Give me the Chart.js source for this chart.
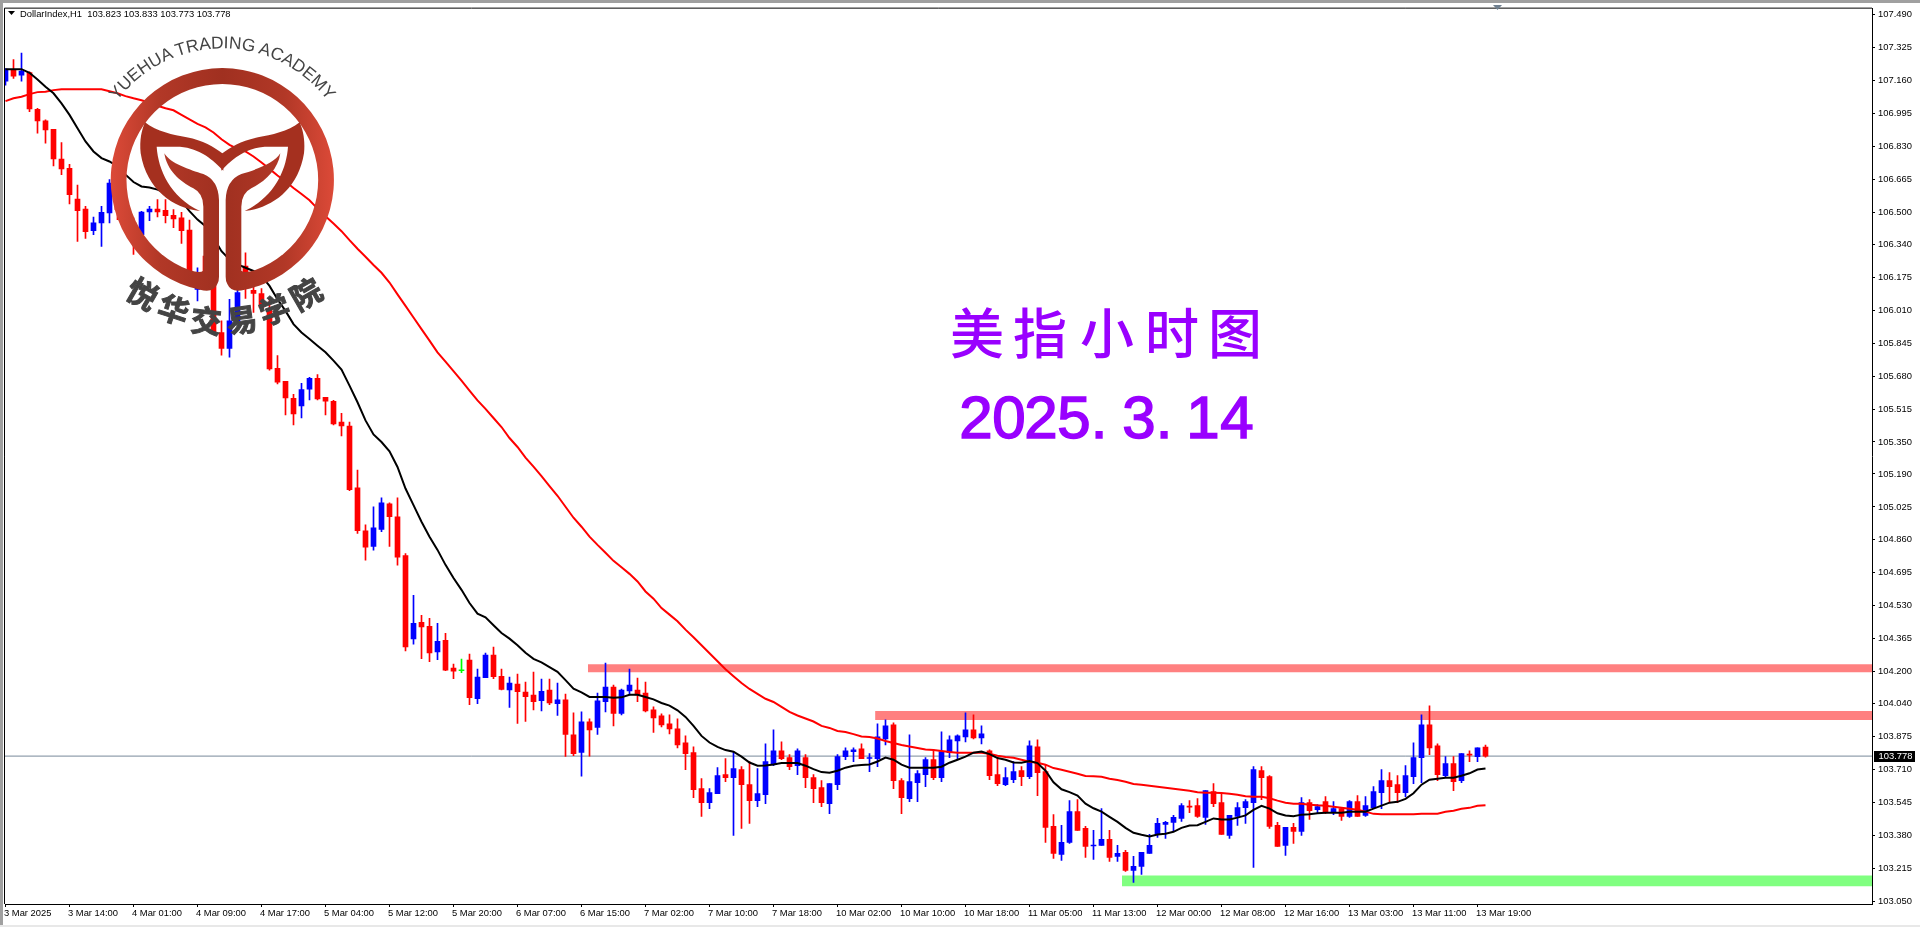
<!DOCTYPE html>
<html lang="zh">
<head>
<meta charset="utf-8">
<title>DollarIndex H1</title>
<script src="https://cdn.jsdelivr.net/npm/chart.js@4/dist/chart.umd.js"></script>
<style>
  html, body { margin: 0; padding: 0; background: #fff; overflow: hidden; }
  #wrap { position: relative; width: 1920px; height: 927px; background: #fff; }
  #chart { position: absolute; left: 0; top: 0; }
  #overlay { position: absolute; left: 0; top: 0; pointer-events: none; }
  #header { position: absolute; left: 20px; top: 7.5px; font: 9.4px "Liberation Sans", sans-serif; color: #000; white-space: pre; }
  .edge { position: absolute; background: #a0a0a0; }
</style>
</head>
<body>
<div id="wrap">
  <canvas id="chart" width="1920" height="927"></canvas>
  <div class="edge" style="left:0;top:0;width:1920px;height:3px"></div>
  <div class="edge" style="left:0;top:0;width:3px;height:925px"></div>
  <div class="edge" style="left:0;top:925px;width:1920px;height:2px;background:#e8e8e8"></div>
  <div id="header">DollarIndex,H1  103.823 103.833 103.773 103.778</div>
  <svg id="overlay" width="1920" height="927" viewBox="0 0 1920 927">
    <defs>
      <linearGradient id="ringFill" gradientUnits="userSpaceOnUse" x1="331" y1="0" x2="1003" y2="0">
        <stop offset="0" stop-color="#dc4a38"/>
        <stop offset="0.22" stop-color="#b23827"/>
        <stop offset="0.5" stop-color="#a03020"/>
        <stop offset="0.78" stop-color="#b23827"/>
        <stop offset="1" stop-color="#e04b39"/>
      </linearGradient>
      <path id="ringHalf" d="M670 204 L667 204 A336 336 0 0 0 600 869 Q640 880 652 852 Q657 845 657 830 L657 600 Q655 540 610 522 C570 510 510 490 493 460 C500 510 540 545 580 565 Q610 580 610 620 L610 812 Q600 820 570 811 A288 288 0 0 1 667 252 L670 252 Z"/>
      <path id="crownHalf" d="M435 367 C470 395 520 405 560 412 C610 422 640 440 670 462 L670 512 C640 480 600 445 540 440 L470 440 C475 510 510 590 600 633 C520 625 440 570 422 460 C418 420 425 390 435 367 Z"/>
      <path id="arcTop" d="M272 540 A395 395 0 0 1 1062 540"/>
    </defs>

    <!-- symbol menu arrow and shift marker -->
    <polygon points="8,11 15,11 11.5,15" fill="#000"/>
    <polygon points="1493,5 1502,5 1497.5,10" fill="#708090"/>

    <!-- watermark logo, drawn in 3x units -->
    <g transform="scale(0.33333)">
      <use href="#ringHalf" fill="url(#ringFill)"/>
      <use href="#ringHalf" fill="url(#ringFill)" transform="translate(1334,0) scale(-1,1)"/>
      <use href="#crownHalf" fill="#a5301f"/>
      <use href="#crownHalf" fill="#a5301f" transform="translate(1334,0) scale(-1,1)"/>
      <text font-family="Liberation Sans" font-size="52" fill="#444" text-anchor="middle">
        <textPath href="#arcTop" startOffset="50%">YUEHUA TRADING ACADEMY</textPath>
      </text>
      <g font-family="Noto Sans CJK SC" font-weight="700" font-size="92" fill="#444" stroke="#444" stroke-width="3" text-anchor="middle">
        <text transform="translate(410,912) rotate(30)">悦</text>
        <text transform="translate(510,962) rotate(18)">华</text>
        <text transform="translate(615,997) rotate(6)">交</text>
        <text transform="translate(730,994) rotate(-8)">易</text>
        <text transform="translate(835,962) rotate(-20)">学</text>
        <text transform="translate(935,912) rotate(-30)">院</text>
      </g>
    </g>

    <!-- big caption -->
    <text font-family="Noto Sans CJK SC" font-weight="500" font-size="54" fill="#9900ff" text-anchor="middle"
          x="977 1040 1107 1172 1235" y="354">美指小时图</text>
    <text font-family="Liberation Sans" font-size="60" fill="#9900ff" stroke="#9900ff" stroke-width="1.5" text-anchor="middle"
          x="976 1009 1041 1074 1099 1139 1164 1203 1237" y="438">2025.3.14</text>
  </svg>
</div>

<script>
// Chart values. One entry per hourly bar.
const opens = [
  107.156,107.211,107.186,107.199,107.015,106.957,106.915,106.766,106.719,106.566,
  106.516,106.407,106.447,106.496,106.633,106.513,106.447,106.388,106.501,106.516,
  106.510,106.485,106.472,106.410,106.114,106.280,106.197,105.898,105.818,105.956,
  106.231,106.109,106.093,106.015,105.719,105.654,105.569,105.531,105.614,105.669,
  105.574,105.554,105.450,105.430,105.121,104.906,104.828,104.913,105.041,104.976,
  104.782,104.365,104.448,104.428,104.300,104.358,104.218,104.205,104.258,104.065,
  104.170,104.283,104.177,104.109,104.138,104.099,104.084,104.055,104.109,104.040,
  104.059,103.884,103.796,103.949,103.921,104.050,104.124,103.991,104.104,104.109,
  104.094,104.009,103.979,103.939,103.914,103.844,103.795,103.615,103.545,103.590,
  103.685,103.670,103.710,103.635,103.555,103.585,103.735,103.804,103.770,103.730,
  103.770,103.670,103.620,103.540,103.635,103.775,103.800,103.814,103.766,103.765,
  103.864,103.934,103.655,103.565,103.645,103.685,103.760,103.670,103.795,103.854,
  103.874,103.909,103.869,103.804,103.685,103.635,103.660,103.705,103.675,103.824,
  103.700,103.426,103.286,103.346,103.500,103.416,103.328,103.331,103.361,103.276,
  103.296,103.206,103.226,103.291,103.386,103.436,103.446,103.466,103.527,103.530,
  103.471,103.600,103.545,103.381,103.476,103.520,103.545,103.705,103.675,103.431,
  103.331,103.421,103.401,103.545,103.510,103.550,103.495,103.515,103.476,103.550,
  103.481,103.520,103.595,103.655,103.635,103.595,103.675,103.770,103.934,103.829,
  103.680,103.740,103.655,103.787,103.775,103.823
];
const highs = [
  107.219,107.264,107.297,107.203,107.020,106.962,106.915,106.849,106.739,106.636,
  106.530,106.475,106.530,106.663,106.663,106.546,106.472,106.505,106.530,106.563,
  106.563,106.513,106.500,106.460,106.222,106.314,106.231,105.956,106.064,106.114,
  106.297,106.197,106.118,106.064,105.782,105.654,105.589,105.644,105.674,105.687,
  105.574,105.559,105.494,105.450,105.210,104.936,105.026,105.071,105.046,105.071,
  104.792,104.582,104.483,104.468,104.443,104.393,104.238,104.263,104.288,104.213,
  104.293,104.323,104.213,104.173,104.188,104.148,104.198,104.163,104.163,104.144,
  104.089,103.994,103.999,103.964,104.094,104.243,104.134,104.114,104.213,104.168,
  104.148,104.024,103.989,103.984,103.964,103.879,103.824,103.665,103.615,103.720,
  103.765,103.800,103.725,103.750,103.715,103.839,103.909,103.849,103.785,103.814,
  103.785,103.685,103.655,103.640,103.785,103.819,103.819,103.839,103.790,103.939,
  103.959,103.944,103.665,103.884,103.705,103.770,103.809,103.899,103.879,103.884,
  103.994,103.984,103.929,103.809,103.765,103.720,103.750,103.725,103.854,103.859,
  103.735,103.485,103.431,103.555,103.560,103.426,103.406,103.515,103.406,103.331,
  103.306,103.276,103.296,103.386,103.466,103.451,103.481,103.540,103.555,103.565,
  103.605,103.640,103.590,103.481,103.545,103.560,103.725,103.725,103.680,103.446,
  103.421,103.441,103.570,103.560,103.535,103.575,103.550,103.520,103.555,103.580,
  103.575,103.625,103.710,103.695,103.680,103.730,103.844,103.984,104.029,103.839,
  103.775,103.775,103.790,103.804,103.819,103.833
];
const lows = [
  107.136,107.169,107.156,107.003,106.895,106.845,106.732,106.688,106.541,106.354,
  106.369,106.388,106.329,106.447,106.463,106.413,106.289,106.380,106.458,106.476,
  106.447,106.422,106.344,106.172,106.056,106.114,105.890,105.785,105.774,105.948,
  106.068,105.998,106.001,105.710,105.641,105.486,105.436,105.471,105.561,105.561,
  105.486,105.436,105.381,105.107,104.893,104.758,104.808,104.901,104.828,104.733,
  104.305,104.338,104.265,104.250,104.260,104.205,104.165,104.195,104.036,104.041,
  104.170,104.165,104.109,104.021,103.941,103.951,104.009,104.004,104.036,103.981,
  103.776,103.780,103.677,103.778,103.886,103.999,103.929,103.984,104.084,104.050,
  103.999,103.896,103.924,103.889,103.819,103.710,103.570,103.476,103.515,103.590,
  103.650,103.381,103.416,103.441,103.525,103.540,103.730,103.760,103.710,103.685,
  103.620,103.545,103.525,103.490,103.610,103.760,103.750,103.765,103.700,103.725,
  103.834,103.615,103.490,103.550,103.550,103.625,103.660,103.650,103.770,103.760,
  103.849,103.864,103.839,103.660,103.630,103.630,103.645,103.630,103.665,103.580,
  103.346,103.266,103.256,103.341,103.406,103.271,103.261,103.331,103.251,103.251,
  103.201,103.146,103.186,103.291,103.371,103.366,103.401,103.451,103.495,103.471,
  103.436,103.525,103.386,103.366,103.431,103.441,103.221,103.560,103.416,103.326,
  103.281,103.341,103.381,103.461,103.490,103.490,103.485,103.456,103.471,103.476,
  103.476,103.515,103.515,103.545,103.545,103.575,103.640,103.645,103.785,103.655,
  103.670,103.605,103.645,103.750,103.750,103.773
];
const closes = [
  107.216,107.181,107.206,107.017,106.957,106.912,106.767,106.717,106.588,106.508,
  106.403,106.447,106.500,106.646,106.513,106.447,106.380,106.501,106.516,106.501,
  106.483,106.467,106.408,106.189,106.186,106.131,105.898,105.818,105.956,106.098,
  106.189,106.093,106.023,105.716,105.649,105.571,105.491,105.612,105.669,105.566,
  105.554,105.440,105.431,105.111,104.906,104.823,104.921,105.046,104.976,104.773,
  104.325,104.443,104.424,104.295,104.353,104.208,104.203,104.205,104.070,104.173,
  104.283,104.175,104.112,104.144,104.100,104.075,104.050,104.102,104.044,104.059,
  103.886,103.790,103.949,103.909,104.054,104.124,103.991,104.109,104.134,104.084,
  104.004,103.969,103.934,103.914,103.834,103.790,103.610,103.545,103.595,103.680,
  103.670,103.715,103.635,103.555,103.590,103.750,103.804,103.765,103.725,103.804,
  103.670,103.615,103.545,103.640,103.775,103.804,103.809,103.765,103.770,103.874,
  103.929,103.655,103.570,103.650,103.690,103.760,103.670,103.800,103.859,103.879,
  103.909,103.869,103.889,103.680,103.640,103.670,103.700,103.675,103.829,103.695,
  103.421,103.291,103.346,103.500,103.406,103.326,103.330,103.361,103.271,103.291,
  103.206,103.226,103.296,103.331,103.441,103.446,103.471,103.530,103.523,103.476,
  103.605,103.540,103.386,103.481,103.520,103.550,103.710,103.670,103.426,103.326,
  103.421,103.401,103.545,103.505,103.525,103.495,103.515,103.476,103.550,103.476,
  103.530,103.600,103.655,103.625,103.595,103.680,103.770,103.934,103.819,103.685,
  103.740,103.650,103.790,103.783,103.819,103.778
];

// black moving average
const maFast = [
  107.216,107.216,107.216,107.198,107.164,107.128,107.095,107.045,106.987,106.920,
  106.854,106.804,106.771,106.754,106.729,106.688,106.651,106.629,106.624,106.613,
  106.596,106.580,106.555,106.505,106.463,106.430,106.372,106.305,106.264,106.239,
  106.222,106.206,106.181,106.131,106.064,106.006,105.940,105.898,105.865,105.832,
  105.799,105.757,105.712,105.632,105.549,105.458,105.388,105.350,105.303,105.225,
  105.117,105.034,104.951,104.876,104.810,104.735,104.669,104.610,104.544,104.491,
  104.473,104.433,104.394,104.366,104.333,104.295,104.265,104.247,104.223,104.200,
  104.158,104.115,104.097,104.074,104.074,104.074,104.070,104.072,104.085,104.085,
  104.074,104.062,104.044,104.031,104.007,103.974,103.929,103.879,103.846,103.824,
  103.808,103.800,103.775,103.746,103.730,103.731,103.736,103.743,103.743,103.743,
  103.730,103.713,103.698,103.695,103.705,103.720,103.730,103.733,103.736,103.751,
  103.771,103.760,103.735,103.720,103.720,103.720,103.720,103.725,103.745,103.760,
  103.775,103.795,103.801,103.788,103.768,103.760,103.746,103.745,103.753,103.743,
  103.705,103.647,103.612,103.598,103.580,103.540,103.517,103.500,103.474,103.449,
  103.419,103.394,103.384,103.376,103.386,103.389,103.399,103.419,103.431,103.432,
  103.449,103.466,103.461,103.461,103.470,103.481,103.509,103.529,103.515,103.492,
  103.481,103.477,103.485,103.487,103.492,103.494,103.494,103.495,103.499,103.500,
  103.500,103.515,103.530,103.545,103.549,103.564,103.592,103.635,103.660,103.665,
  103.670,103.670,103.680,103.692,103.711,103.716
];
// red moving average
const maSlow = [
  107.056,107.070,107.078,107.091,107.101,107.103,107.111,107.115,107.115,107.115,
  107.115,107.115,107.115,107.105,107.095,107.081,107.070,107.060,107.048,107.033,
  107.020,107.010,106.987,106.965,106.942,106.925,106.899,106.865,106.837,106.817,
  106.804,106.779,106.749,106.717,106.684,106.654,106.621,106.591,106.560,106.518,
  106.480,106.443,106.405,106.360,106.317,106.277,106.236,106.197,106.148,106.089,
  106.031,105.973,105.915,105.857,105.799,105.752,105.705,105.657,105.607,105.558,
  105.516,105.470,105.425,105.370,105.325,105.272,105.227,105.179,105.129,105.081,
  105.026,104.971,104.926,104.876,104.835,104.796,104.755,104.723,104.690,104.652,
  104.602,104.566,104.519,104.486,104.453,104.411,104.373,104.333,104.293,104.253,
  104.213,104.178,104.144,104.114,104.089,104.065,104.049,104.024,103.999,103.981,
  103.966,103.951,103.929,103.919,103.904,103.899,103.888,103.876,103.873,103.866,
  103.854,103.844,103.834,103.826,103.819,103.811,103.808,103.803,103.798,103.795,
  103.795,103.795,103.795,103.790,103.780,103.773,103.770,103.760,103.750,103.745,
  103.735,103.718,103.710,103.700,103.690,103.678,103.677,103.675,103.665,103.658,
  103.650,103.638,103.635,103.630,103.625,103.620,103.615,103.610,103.605,103.597,
  103.595,103.595,103.593,103.589,103.585,103.577,103.575,103.574,103.567,103.555,
  103.545,103.540,103.539,103.535,103.532,103.530,103.525,103.520,103.515,103.510,
  103.500,103.489,103.487,103.487,103.487,103.487,103.487,103.489,103.490,103.490,
  103.499,103.505,103.514,103.519,103.529,103.532
];

// support / resistance bands: first bar, upper price, lower price
const zoneStarts = [72.8, 108.7, 139.56];
const zoneTops = [104.238, 104.004, 103.181];
const zoneBottoms = [104.198, 103.959, 103.127];

const lastPrice = 103.778;

const priceTicks = [
  "107.490","107.325","107.160","106.995","106.830","106.665","106.500","106.340","106.175","106.010",
  "105.845","105.680","105.515","105.350","105.190","105.025","104.860","104.695","104.530","104.365",
  "104.200","104.040","103.875","103.710","103.545","103.380","103.215","103.050"
];
const timeTicks = [
  "3 Mar 2025","3 Mar 14:00","4 Mar 01:00","4 Mar 09:00","4 Mar 17:00","5 Mar 04:00","5 Mar 12:00","5 Mar 20:00",
  "6 Mar 07:00","6 Mar 15:00","7 Mar 02:00","7 Mar 10:00","7 Mar 18:00","10 Mar 02:00","10 Mar 10:00","10 Mar 18:00",
  "11 Mar 05:00","11 Mar 13:00","12 Mar 00:00","12 Mar 08:00","12 Mar 16:00","13 Mar 03:00","13 Mar 11:00","13 Mar 19:00"
];
const barsPerTimeTick = 8;

// x axis runs past the last bar, one bar is 8 px wide
const xMin = -0.0625;
const xMax = 233.3125;
const yMin = 103.0378;
const yMax = 107.5188;

const UP = "#0000ff";
const DOWN = "#ff0000";
const FLAT = "#00ff00";
const TICK_FONT = { family: "Liberation Sans", size: 9.4 };

function candleColor(i) {
  if (closes[i] > opens[i]) return UP;
  if (closes[i] < opens[i]) return DOWN;
  return FLAT;
}

function zoneDataset(i, color) {
  return {
    type: "line",
    data: [{ x: zoneStarts[i], y: zoneTops[i] }, { x: xMax, y: zoneTops[i] }],
    borderWidth: 0,
    pointRadius: 0,
    backgroundColor: color,
    fill: { value: zoneBottoms[i] },
    order: 10
  };
}

function lineDataset(values, color, order) {
  return {
    type: "line",
    data: values.map((v, i) => ({ x: i, y: v })),
    borderColor: color,
    borderWidth: 2,
    pointRadius: 0,
    tension: 0,
    fill: false,
    order: order
  };
}

// frame on the two sides without an axis, and the black last-price tag
const framePlugin = {
  id: "frame",
  afterDraw(chart) {
    const { ctx, chartArea, scales } = chart;
    ctx.save();
    ctx.strokeStyle = "#000";
    ctx.lineWidth = 1;
    ctx.beginPath();
    ctx.moveTo(chartArea.left - 0.5, chartArea.bottom);
    ctx.lineTo(chartArea.left - 0.5, chartArea.top - 0.5);
    ctx.lineTo(chartArea.right, chartArea.top - 0.5);
    ctx.stroke();

    const y = scales.y.getPixelForValue(lastPrice);
    ctx.fillStyle = "#000";
    ctx.fillRect(chartArea.right + 2, Math.round(y) - 5, 41, 11);
    ctx.fillStyle = "#fff";
    ctx.font = TICK_FONT.size + 'px "' + TICK_FONT.family + '"';
    ctx.textBaseline = "middle";
    ctx.fillText(lastPrice.toFixed(3), chartArea.right + 6.5, Math.round(y) + 0.5);
    ctx.restore();
  }
};

function buildChart() {
  const bars = opens.map((_, i) => i);

  new Chart(document.getElementById("chart"), {
    type: "bar",
    data: {
      datasets: [
        zoneDataset(0, "#ff8080"),
        zoneDataset(1, "#ff8080"),
        zoneDataset(2, "#80ff80"),
        {
          type: "line",
          data: [{ x: xMin, y: lastPrice }, { x: xMax, y: lastPrice }],
          borderColor: "#778899",
          borderWidth: 1,
          pointRadius: 0,
          order: 9
        },
        {
          // wicks
          data: bars.map((i) => ({ x: i, y: [lows[i], highs[i]] })),
          backgroundColor: bars.map(candleColor),
          borderWidth: 0,
          barThickness: 1,
          grouped: false,
          order: 8
        },
        {
          // bodies
          data: bars.map((i) => ({ x: i, y: [opens[i], closes[i]] })),
          backgroundColor: bars.map(candleColor),
          borderWidth: 0,
          barThickness: 5,
          minBarLength: 1,
          grouped: false,
          order: 7
        },
        lineDataset(maSlow, "#ff0000", 2),
        lineDataset(maFast, "#000000", 1)
      ]
    },
    options: {
      responsive: false,
      animation: false,
      events: [],
      layout: { padding: { left: 5, top: 5 } },
      plugins: { legend: { display: false }, tooltip: { enabled: false } },
      scales: {
        x: {
          type: "linear",
          offset: false,
          min: xMin,
          max: xMax,
          afterFit: (scale) => { scale.height = 23; },
          afterBuildTicks: (scale) => {
            scale.ticks = timeTicks.map((_, i) => ({ value: i * barsPerTimeTick }));
          },
          border: { color: "#000", width: 1 },
          grid: { offset: false, drawOnChartArea: false, drawTicks: true, tickLength: 3, color: "#000" },
          ticks: {
            autoSkip: false,
            maxRotation: 0,
            minRotation: 0,
            align: "start",
            labelOffset: -1.5,
            padding: 1,
            color: "#000",
            font: TICK_FONT,
            callback: (value) => timeTicks[value / barsPerTimeTick]
          }
        },
        y: {
          position: "right",
          min: yMin,
          max: yMax,
          afterFit: (scale) => { scale.width = 48; },
          afterBuildTicks: (scale) => {
            scale.ticks = priceTicks.map((t) => ({ value: parseFloat(t) }));
          },
          border: { color: "#000", width: 1 },
          grid: { drawOnChartArea: false, drawTicks: true, tickLength: 3, color: "#000" },
          ticks: {
            autoSkip: false,
            padding: 3,
            color: "#000",
            font: TICK_FONT,
            callback: (value) => value.toFixed(3)
          }
        }
      }
    },
    plugins: [framePlugin]
  });
}

buildChart();
</script>
</body>
</html>
